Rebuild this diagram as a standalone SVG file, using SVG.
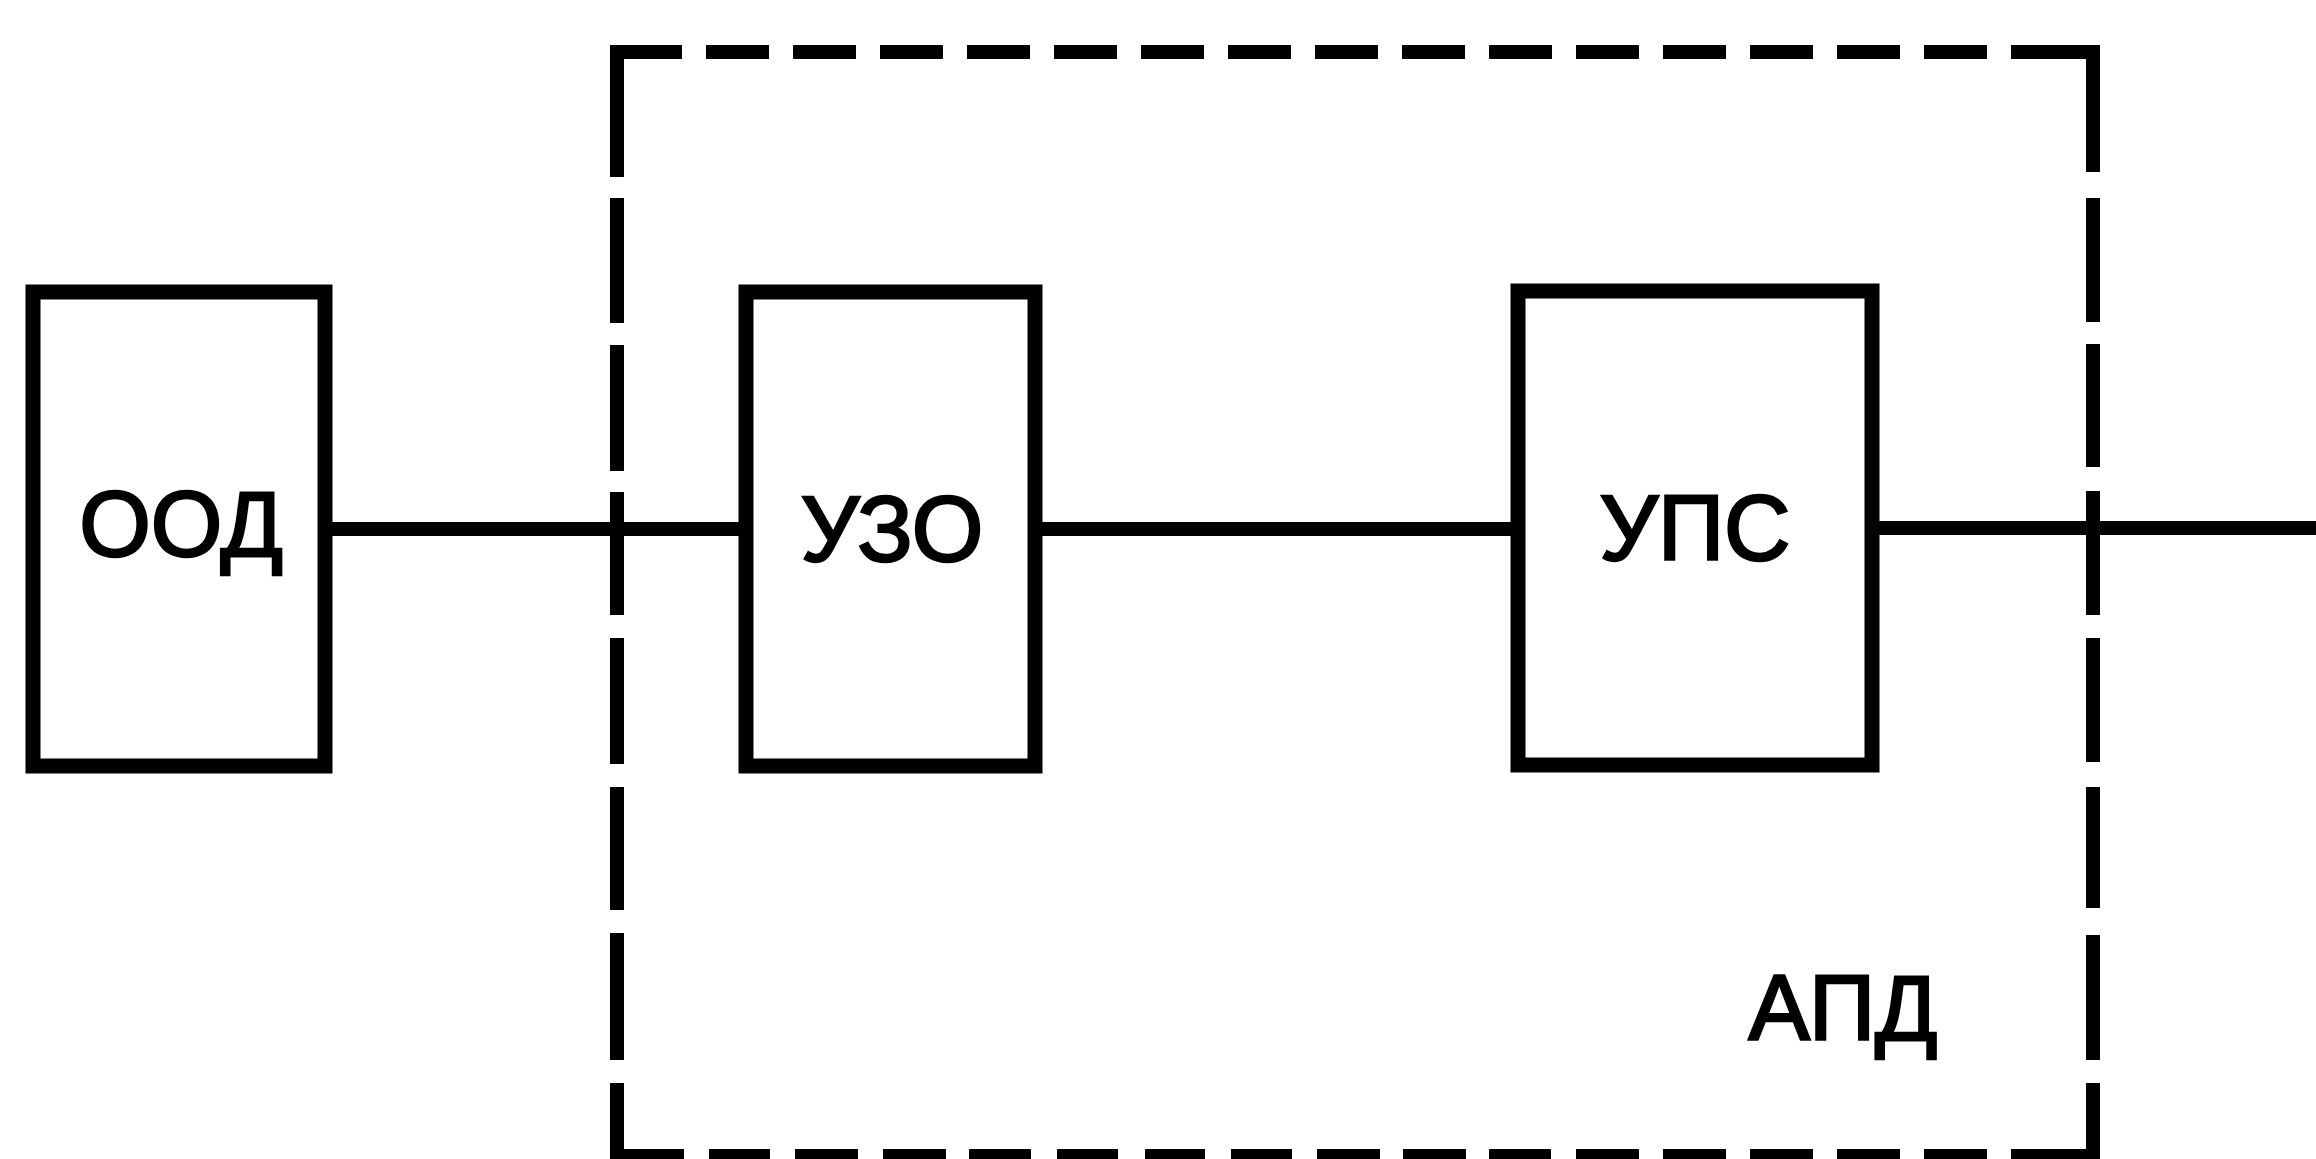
<svg xmlns="http://www.w3.org/2000/svg" width="2316" height="1159" viewBox="0 0 2316 1159">
<style>
.box{fill:none;stroke:#000;stroke-width:15}
.dash{fill:none;stroke:#000;stroke-width:14}
.wire{fill:none;stroke:#000;stroke-width:14}
.lbl{font-family:"Liberation Sans",Arial,sans-serif;font-size:92px;fill:#000;stroke:#000;stroke-width:2.5;text-anchor:middle}
</style>
<rect width="2316" height="1159" fill="#fff"/>
<g id="apd">
<path class="dash" d="M610 52H682M706 52H769M793 52H856M880 52H943M967 52H1030M1054 52H1117M1141 52H1204M1228 52H1291M1315 52H1378M1402 52H1465M1489 52H1552M1576 52H1639M1663 52H1726M1750 52H1813M1837 52H1900M1924 52H1987M2011 52H2100"/>
<path class="dash" d="M610 1156H684M709 1156H770M795 1156H858M883 1156H946M969 1156H1031M1057 1156H1118M1145 1156H1205M1231 1156H1292M1317 1156H1380M1403 1156H1466M1489 1156H1551M1576 1156H1639M1663 1156H1726M1750 1156H1813M1837 1156H1900M1924 1156H1987M2011 1156H2100"/>
<path class="dash" d="M617 45V177M617 198V323M617 345V471M617 492V615M617 638V764M617 787V910M617 933V1060M617 1083V1163"/>
<path class="dash" d="M2093 45V172M2093 198V322M2093 344V467M2093 491V615M2093 638V762M2093 787V908M2093 935V1060M2093 1083V1163"/>
<text class="lbl" x="1843" y="1040">АПД</text>
</g>
<g id="connectors">
<path class="wire" d="M325 529H746"/>
<path class="wire" d="M1035 529H1518"/>
<path class="wire" d="M1872 528H2316"/>
</g>
<g id="ood">
<rect class="box" x="33" y="292" width="292" height="474"/>
<text class="lbl" x="181" y="556">ООД</text>
</g>
<g id="uzo">
<rect class="box" x="746" y="292" width="289" height="474"/>
<text class="lbl" x="892" y="561">УЗО</text>
</g>
<g id="ups">
<rect class="box" x="1518" y="291" width="354" height="474"/>
<text class="lbl" x="1695" y="560">УПС</text>
</g>
</svg>
